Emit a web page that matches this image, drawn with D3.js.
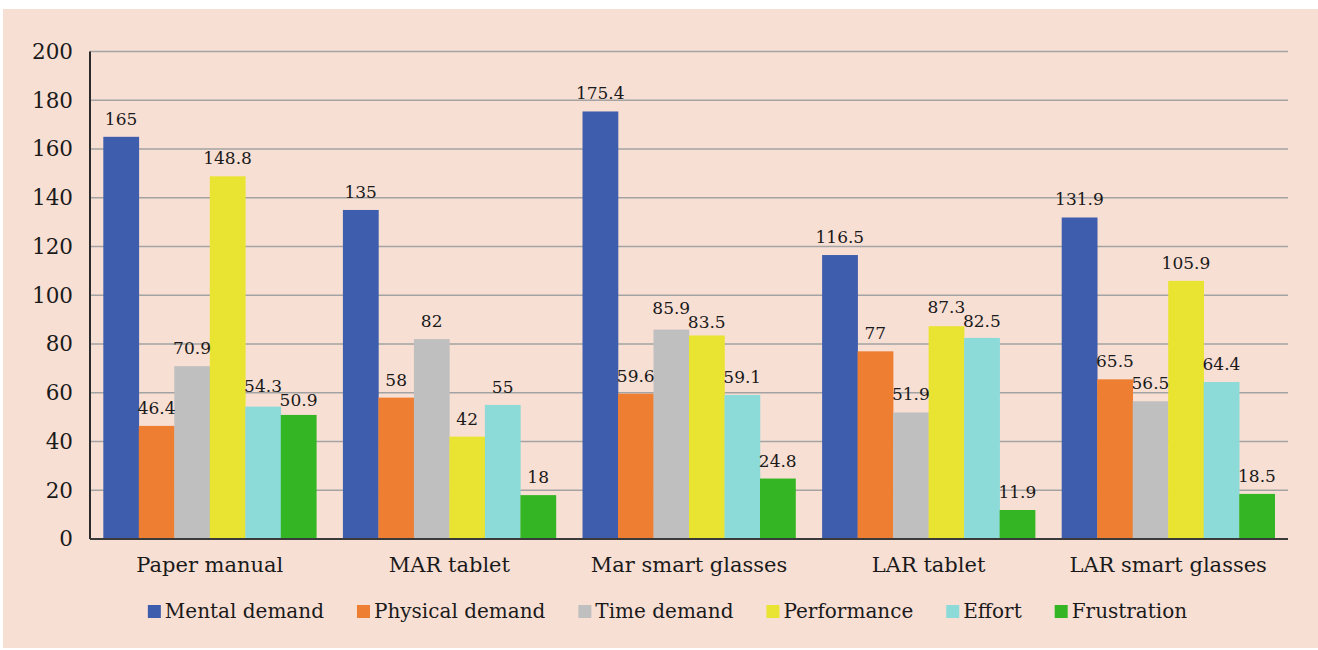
<!DOCTYPE html>
<html>
<head>
<meta charset="utf-8">
<script src="https://cdn.jsdelivr.net/npm/d3@7"></script>
<style>
  html, body { margin: 0; padding: 0; background: #ffffff; }
  svg { display: block; }
  svg text { font-family: "DejaVu Serif", serif; fill: #1a1a1a; }
</style>
</head>
<body>
<svg id="chart" width="1318" height="650"></svg>
<script>
// Workload ratings per interface condition
const categories = ["Paper manual", "MAR tablet", "Mar smart glasses", "LAR tablet", "LAR smart glasses"];
const seriesNames = ["Mental demand", "Physical demand", "Time demand", "Performance", "Effort", "Frustration"];
const mentalDemand   = [165, 135, 175.4, 116.5, 131.9];
const physicalDemand = [46.4, 58, 59.6, 77, 65.5];
const timeDemand     = [70.9, 82, 85.9, 51.9, 56.5];
const performance    = [148.8, 42, 83.5, 87.3, 105.9];
const effort         = [54.3, 55, 59.1, 82.5, 64.4];
const frustration    = [50.9, 18, 24.8, 11.9, 18.5];
const yTicks = [0, 20, 40, 60, 80, 100, 120, 140, 160, 180, 200];

const seriesValues = [mentalDemand, physicalDemand, timeDemand, performance, effort, frustration];
const colors = ["#3e5dac", "#ed7e32", "#bfbfbf", "#e9e332", "#8cdbd9", "#34b524"];

const svg = d3.select("#chart");
const W = 1318, H = 650;

// panel background
svg.append("rect").attr("x", 3).attr("y", 9).attr("width", W - 3).attr("height", 639).attr("fill", "#f8dfd4");

const plot = { left: 90, right: 1288, top: 51.5, bottom: 539 };

const x0 = d3.scaleBand().domain(categories).range([plot.left, plot.right]).paddingInner(0).paddingOuter(0);
const x1 = d3.scaleBand().domain(seriesNames).range([0, x0.bandwidth()]).paddingOuter(0.375).paddingInner(0);
const y = d3.scaleLinear().domain([0, 200]).range([plot.bottom, plot.top]);

// horizontal grid
svg.append("g")
  .selectAll("line")
  .data(yTicks.filter(d => d > 0))
  .join("line")
  .attr("x1", plot.left).attr("x2", plot.right)
  .attr("y1", d => y(d)).attr("y2", d => y(d))
  .attr("stroke", "#a3a3a3").attr("stroke-width", 1.6);

// y axis labels
const yAxis = d3.axisLeft(y).tickValues(yTicks).tickSize(0).tickPadding(17).tickFormat(d3.format("d"));
const gy = svg.append("g").attr("transform", `translate(${plot.left},0)`).call(yAxis);
gy.attr("font-family", null);
gy.select(".domain").remove();
gy.selectAll("text").attr("font-size", 21.5).attr("fill", "#1a1a1a");

// bars
const groups = svg.append("g").selectAll("g")
  .data(categories.map((c, i) => ({ c, i })))
  .join("g")
  .attr("transform", d => `translate(${x0(d.c)},0)`);

groups.selectAll("rect")
  .data(d => seriesNames.map((s, k) => ({ s, k, v: seriesValues[k][d.i] })))
  .join("rect")
  .attr("x", d => x1(d.s))
  .attr("width", x1.bandwidth() + 0.3)
  .attr("y", d => y(d.v))
  .attr("height", d => y(0) - y(d.v))
  .attr("fill", d => colors[d.k]);

// value labels, nudged apart vertically where neighbours collide
const labelSize = 17, labelGap = 12, labelH = 14;
groups.each(function (g) {
  const grp = d3.select(this);
  const labels = seriesNames.map((s, k) => {
    const v = seriesValues[k][g.i];
    const t = grp.append("text")
      .attr("x", x1(s) + x1.bandwidth() / 2)
      .attr("text-anchor", "middle")
      .attr("font-size", labelSize)
      .text(v);
    return { t, v, cx: x1(s) + x1.bandwidth() / 2, w: t.node().getComputedTextLength(), base: y(v) - labelGap };
  });
  for (let i = 1; i < labels.length; i++) {
    const a = labels[i - 1], b = labels[i];
    const hOverlap = Math.abs(b.cx - a.cx) < (a.w + b.w) / 2;
    const sep = Math.abs(b.base - a.base);
    if (hOverlap && sep < labelH) {
      const shift = (labelH - sep) / 2;
      const [hi, lo] = a.base <= b.base ? [a, b] : [b, a];
      hi.base -= shift;
      lo.base = Math.min(lo.base + shift, y(lo.v) - 3);
    }
  }
  labels.forEach(l => l.t.attr("y", l.base));
});

// axes lines
svg.append("line").attr("x1", plot.left).attr("x2", plot.left).attr("y1", plot.top).attr("y2", plot.bottom)
  .attr("stroke", "#2a2a2a").attr("stroke-width", 2);
svg.append("line").attr("x1", plot.left).attr("x2", plot.right).attr("y1", plot.bottom).attr("y2", plot.bottom)
  .attr("stroke", "#3a3a3a").attr("stroke-width", 2);

// category labels
const xAxis = d3.axisBottom(x0).tickSize(0).tickPadding(0);
const gx = svg.append("g").attr("transform", `translate(0,${plot.bottom})`).call(xAxis);
gx.attr("font-family", null);
gx.select(".domain").remove();
gx.selectAll("text")
  .attr("font-size", 21).attr("fill", "#1a1a1a")
  .attr("dy", null).attr("y", 33);

// legend
const legend = svg.append("g");
const items = legend.selectAll("g").data(seriesNames).join("g");
items.append("rect").attr("width", 13).attr("height", 13).attr("y", -13).attr("fill", (d, i) => colors[i]);
items.append("text").attr("x", 17).attr("font-size", 20).text(d => d);
let cx = 0;
const gap = 33;
items.each(function () {
  const g = d3.select(this);
  const w = 17 + g.select("text").node().getComputedTextLength();
  g.attr("transform", `translate(${cx},0)`);
  cx += w + gap;
});
const total = cx - gap;
legend.attr("transform", `translate(${667.5 - total / 2},618)`);
</script>
</body>
</html>
